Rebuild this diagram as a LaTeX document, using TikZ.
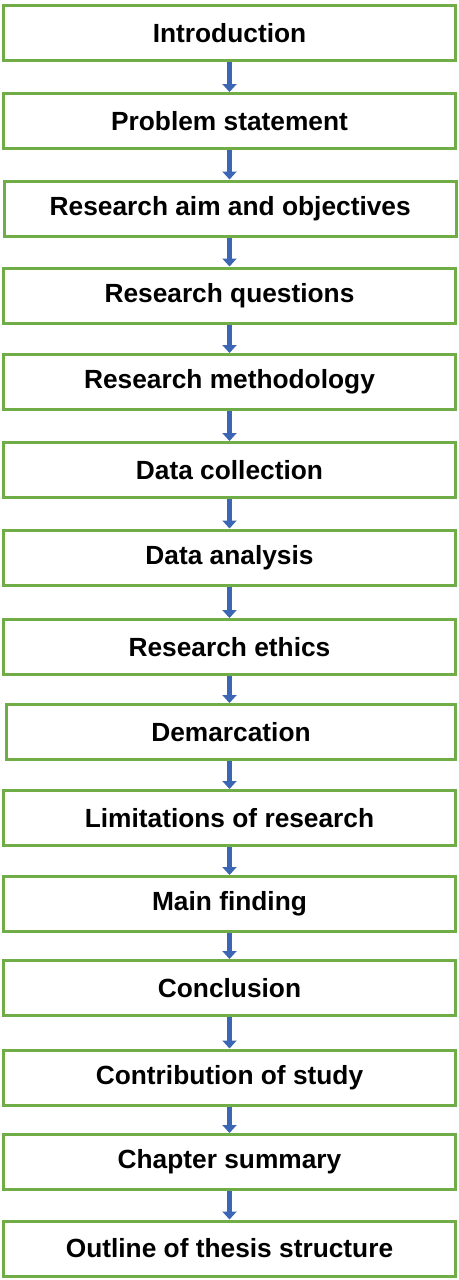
\documentclass[tikz,border=0pt]{standalone}
\usepackage{fontspec}
\setmainfont{Liberation Sans}
\usepackage{tikz}
\usetikzlibrary{arrows.meta}

\definecolor{boxgreen}{HTML}{70AD47}
\definecolor{arrowblue}{HTML}{3C65B4}

\begin{document}
\begin{tikzpicture}[x=1pt, y=-1pt,
	stagebox/.style={rectangle, draw=boxgreen, line width=3pt, fill=white, minimum width=452pt, minimum height=55pt, inner sep=0pt, font=\fontsize{26.3}{30}\selectfont\bfseries},
	downarrow/.style={line width=5pt, arrowblue, -{Triangle[width=14pt, length=8pt]}}]
			\useasboundingbox (0,0) rectangle (458,1280);

			% chapter stages, top to bottom
			\node[stagebox] (intro) at (229.5,33) {Introduction};
			\node[stagebox] (problem) at (229.5,121) {Problem statement};
			\node[stagebox] (aim) at (230.2,208.5) {Research aim and objectives};
			\node[stagebox] (questions) at (229.5,295.5) {Research questions};
			\node[stagebox] (method) at (229.5,382) {Research methodology};
			\node[stagebox] (collect) at (229.5,470) {Data collection};
			\node[stagebox] (analysis) at (229.5,557.5) {Data analysis};
			\node[stagebox] (ethics) at (229.5,647) {Research ethics};
			\node[stagebox, minimum width=449pt] (demarc) at (231,732) {Demarcation};
			\node[stagebox] (limits) at (229.5,818) {Limitations of research};
			\node[stagebox] (finding) at (229.5,904) {Main finding};
			\node[stagebox] (concl) at (229.5,988) {Conclusion};
			\node[stagebox] (contrib) at (229.5,1077.5) {Contribution of study};
			\node[stagebox] (summary) at (229.5,1162) {Chapter summary};
			\node[stagebox] (outline) at (229.5,1248.5) {Outline of thesis structure};

			% arrows between the stages
			\draw[downarrow] (intro.south) -- (problem.north);
			\draw[downarrow] (problem.south) -- (aim.north -| problem.south);
			\draw[downarrow] (aim.south -| problem.south) -- (questions.north);
			\draw[downarrow] (questions.south) -- (method.north);
			\draw[downarrow] (method.south) -- (collect.north);
			\draw[downarrow] (collect.south) -- (analysis.north);
			\draw[downarrow] (analysis.south) -- (ethics.north);
			\draw[downarrow] (ethics.south) -- (demarc.north -| ethics.south);
			\draw[downarrow] (demarc.south -| ethics.south) -- (limits.north);
			\draw[downarrow] (limits.south) -- (finding.north);
			\draw[downarrow] (finding.south) -- (concl.north);
			\draw[downarrow] (concl.south) -- (contrib.north);
			\draw[downarrow] (contrib.south) -- (summary.north);
			\draw[downarrow] (summary.south) -- (outline.north);

		\end{tikzpicture}
\end{document}
